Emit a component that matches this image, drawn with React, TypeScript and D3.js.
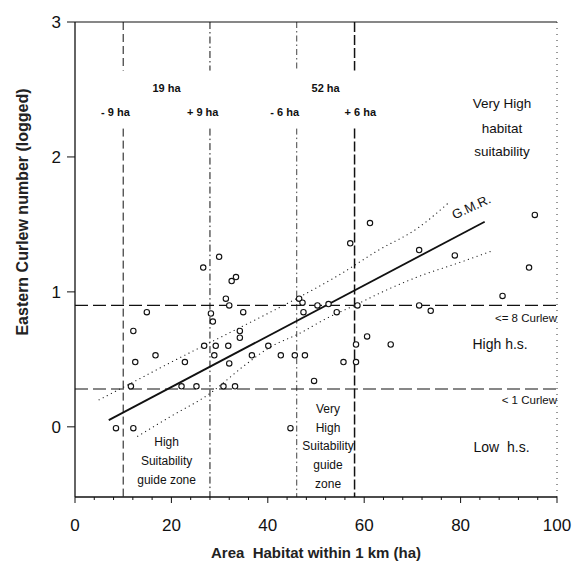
import React, { useEffect, useRef } from "react";
import * as d3 from "d3";

// Survey sites: area of habitat within 1 km (ha) vs logged curlew count
const areaHa = [
  26.6, 29.9, 32.5, 33.4, 31.3, 32.0, 14.9, 28.2, 28.6, 34.9, 12.1, 34.2, 34.2,
  26.8, 29.2, 31.8, 40.1, 16.7, 28.9, 36.7, 42.7, 45.6, 47.7, 12.5, 22.8, 32.0,
  11.6, 22.1, 25.2, 30.8, 33.2, 49.6, 8.5, 12.1, 44.7, 46.5, 47.2, 50.3, 47.4,
  54.3, 57.1, 52.6, 58.6, 71.4, 78.8, 94.2, 88.7, 71.4, 73.8, 60.6, 58.3, 65.5,
  55.7, 58.3, 61.2, 95.4,
];
const curlewLog = [
  1.18, 1.26, 1.08, 1.11, 0.95, 0.9, 0.85, 0.84, 0.78, 0.85, 0.71, 0.71, 0.66,
  0.6, 0.6, 0.6, 0.6, 0.53, 0.53, 0.53, 0.53, 0.53, 0.53, 0.48, 0.48, 0.47,
  0.3, 0.3, 0.3, 0.3, 0.3, 0.34, -0.01, -0.01, -0.01, 0.95, 0.92, 0.9, 0.85,
  0.85, 1.36, 0.91, 0.9, 1.31, 1.27, 1.18, 0.97, 0.9, 0.86, 0.67, 0.61, 0.61,
  0.48, 0.48, 1.51, 1.57,
];

// G.M.R. fit and its dotted confidence bands
const gmrX = [7, 85];
const gmrY = [0.05, 1.52];
const upperX = [5, 12, 20, 30, 40, 47, 55, 63, 71, 77.5];
const upperY = [0.2, 0.33, 0.48, 0.66, 0.84, 0.97, 1.13, 1.31, 1.47, 1.66];
const lowerX = [13, 20, 27.7, 35, 40, 47, 52, 58, 65, 71, 80, 87];
const lowerY = [-0.07, 0.08, 0.24, 0.45, 0.58, 0.7, 0.8, 0.9, 1.02, 1.11, 1.22, 1.31];

// guide zone boundaries (19 ha +/- 9, 52 ha +/- 6) and curlew thresholds
const zoneBounds = [10, 28, 46, 58];
const zoneDash = ["8,4", "7,3,1.5,3", "6,3,1.5,3", "10,3"];
const zoneWidth = [1, 1, 0.8, 1.5];
const thresholds = [0.9, 0.28];

const xTicks = [0, 20, 40, 60, 80, 100];
const xMinorTicks = d3.range(0, 101, 4);
const yTicks = [0, 1, 2, 3];

export default function App() {
  const svgRef = useRef<SVGSVGElement | null>(null);

  useEffect(() => {
    const width = 578;
    const height = 567;

    const x = d3.scaleLinear().domain([0, 100]).range([75, 557]);
    const y = d3.scaleLinear().domain([-0.52, 3]).range([497, 22]);

    const svg = d3.select(svgRef.current)
      .attr("width", width)
      .attr("height", height)
      .attr("style", "font-family: 'Liberation Sans', Arial, sans-serif;");

    svg.selectAll("*").remove();

    svg.append("rect")
      .attr("width", width)
      .attr("height", height)
      .attr("fill", "white");

    const [x0, x1] = x.range();
    const [yb, yt] = y.range();

    // frame: solid top/left/bottom, dotted right
    svg.append("line")
      .attr("x1", x0).attr("x2", x1).attr("y1", yt).attr("y2", yt)
      .attr("stroke", "#111").attr("stroke-width", 1.2);
    svg.append("line")
      .attr("x1", x1).attr("x2", x1).attr("y1", yt).attr("y2", yb)
      .attr("stroke", "#333").attr("stroke-width", 1).attr("stroke-dasharray", "1,5");

    // x axis
    const gx = svg.append("g").attr("transform", `translate(0,${yb})`);
    gx.append("line")
      .attr("x1", x0).attr("x2", x1)
      .attr("stroke", "#111").attr("stroke-width", 1.3);
    gx.selectAll("line.minor")
      .data(xMinorTicks)
      .join("line")
      .attr("class", "minor")
      .attr("x1", d => x(d)).attr("x2", d => x(d))
      .attr("y1", 0).attr("y2", d => (d % 20 === 0 ? 6 : 3))
      .attr("stroke", "#111").attr("stroke-width", 1);
    gx.selectAll("text")
      .data(xTicks)
      .join("text")
      .attr("x", d => x(d))
      .attr("y", 34)
      .attr("text-anchor", "middle")
      .attr("font-size", 17)
      .attr("fill", "#111")
      .text(d => d);

    // y axis
    const gy = svg.append("g").attr("transform", `translate(${x0},0)`);
    gy.append("line")
      .attr("y1", yt).attr("y2", yb)
      .attr("stroke", "#111").attr("stroke-width", 1.3);
    gy.selectAll("line.tick")
      .data(yTicks)
      .join("line")
      .attr("class", "tick")
      .attr("x1", -8).attr("x2", 0)
      .attr("y1", d => y(d)).attr("y2", d => y(d))
      .attr("stroke", "#111").attr("stroke-width", 1);
    gy.selectAll("text")
      .data(yTicks)
      .join("text")
      .attr("x", -14)
      .attr("y", d => y(d))
      .attr("dy", "0.35em")
      .attr("text-anchor", "end")
      .attr("font-size", 17)
      .attr("fill", "#111")
      .text(d => d);

    // axis titles
    svg.append("text")
      .attr("x", (x0 + x1) / 2)
      .attr("y", 558)
      .attr("text-anchor", "middle")
      .attr("font-size", 15)
      .attr("font-weight", "bold")
      .attr("fill", "#222")
      .attr("xml:space", "preserve")
      .text("Area  Habitat within 1 km (ha)");
    svg.append("text")
      .attr("transform", `translate(28,${212}) rotate(-90)`)
      .attr("text-anchor", "middle")
      .attr("font-size", 16)
      .attr("font-weight", "bold")
      .attr("fill", "#222")
      .text("Eastern Curlew number (logged)");

    // horizontal thresholds
    svg.selectAll("line.thr")
      .data(thresholds)
      .join("line")
      .attr("class", "thr")
      .attr("x1", x0).attr("x2", x1)
      .attr("y1", d => y(d)).attr("y2", d => y(d))
      .attr("stroke", "#111").attr("stroke-width", 1.1)
      .attr("stroke-dasharray", "13,5");

    // vertical zone boundaries, broken where the labels sit
    const segments = zoneBounds.flatMap((b, i) => [
      { b, i, from: 3, to: 2.64 },
      { b, i, from: 2.21, to: -0.52 },
    ]);
    svg.selectAll("line.zone")
      .data(segments)
      .join("line")
      .attr("class", "zone")
      .attr("x1", d => x(d.b)).attr("x2", d => x(d.b))
      .attr("y1", d => y(d.from)).attr("y2", d => y(d.to))
      .attr("stroke", "#111")
      .attr("stroke-width", d => zoneWidth[d.i])
      .attr("stroke-dasharray", d => zoneDash[d.i]);

    // confidence bands
    const toPts = (xs: number[], ys: number[]) => xs.map((v, i) => [v, ys[i]] as [number, number]);
    const line = d3.line<[number, number]>()
      .x(d => x(d[0]))
      .y(d => y(d[1]))
      .curve(d3.curveMonotoneX);
    [toPts(upperX, upperY), toPts(lowerX, lowerY)].forEach(pts => {
      svg.append("path")
        .attr("d", line(pts))
        .attr("fill", "none")
        .attr("stroke", "#222")
        .attr("stroke-width", 1.2)
        .attr("stroke-linecap", "round")
        .attr("stroke-dasharray", "0.1,4.5");
    });

    // G.M.R. line
    svg.append("path")
      .attr("d", line(toPts(gmrX, gmrY)))
      .attr("fill", "none")
      .attr("stroke", "#111")
      .attr("stroke-width", 1.8);

    const ang = Math.atan2(y(gmrY[1]) - y(gmrY[0]), x(gmrX[1]) - x(gmrX[0])) * 180 / Math.PI;
    svg.append("text")
      .attr("transform", `translate(${x(82.6)},${y(1.6)}) rotate(${ang + 3})`)
      .attr("text-anchor", "middle")
      .attr("font-size", 13)
      .attr("fill", "#111")
      .text("G.M.R.");

    // points
    svg.append("g")
      .selectAll("circle")
      .data(areaHa.map((a, i) => [a, curlewLog[i]]))
      .join("circle")
      .attr("cx", d => x(d[0]))
      .attr("cy", d => y(d[1]))
      .attr("r", 2.7)
      .attr("fill", "white")
      .attr("stroke", "#111")
      .attr("stroke-width", 1.1);

    // annotations
    const ann = (tx: number, ty: number, s: string, size: number, bold = false, anchor = "middle") =>
      svg.append("text")
        .attr("x", x(tx))
        .attr("y", y(ty))
        .attr("dy", "0.35em")
        .attr("text-anchor", anchor)
        .attr("font-size", size)
        .attr("font-weight", bold ? "bold" : "normal")
        .attr("fill", "#111")
        .attr("xml:space", "preserve")
        .text(s);

    ann(19, 2.51, "19 ha", 11, true);
    ann(52, 2.51, "52 ha", 11, true);
    ann(8.4, 2.33, "- 9 ha", 11, true);
    ann(26.5, 2.33, "+ 9 ha", 11, true);
    ann(43.5, 2.33, "- 6 ha", 11, true);
    ann(59.2, 2.33, "+ 6 ha", 11, true);

    ann(88.6, 2.4, "Very High", 13.5);
    ann(88.6, 2.21, "habitat", 13.5);
    ann(88.6, 2.04, "suitability", 13.5);

    ann(100, 0.81, "<= 8 Curlew", 11.5, false, "end");
    ann(88.2, 0.61, "High h.s.", 14);
    ann(100, 0.2, "< 1 Curlew", 11.5, false, "end");
    ann(88.5, -0.15, "Low  h.s.", 14);

    ann(19, -0.11, "High", 12);
    ann(19, -0.25, "Suitability", 12);
    ann(19, -0.39, "guide zone", 12);

    ann(52.5, 0.13, "Very", 12);
    ann(52.5, -0.01, "High", 12);
    ann(52.5, -0.14, "Suitability", 12);
    ann(52.5, -0.28, "guide", 12);
    ann(52.5, -0.42, "zone", 12);

    return () => {
      d3.select(svgRef.current).selectAll("*").remove();
    };
  }, []);

  return (
    <div style={{ position: "absolute", left: 0, top: 0 }}>
      <svg ref={svgRef} />
    </div>
  );
}
